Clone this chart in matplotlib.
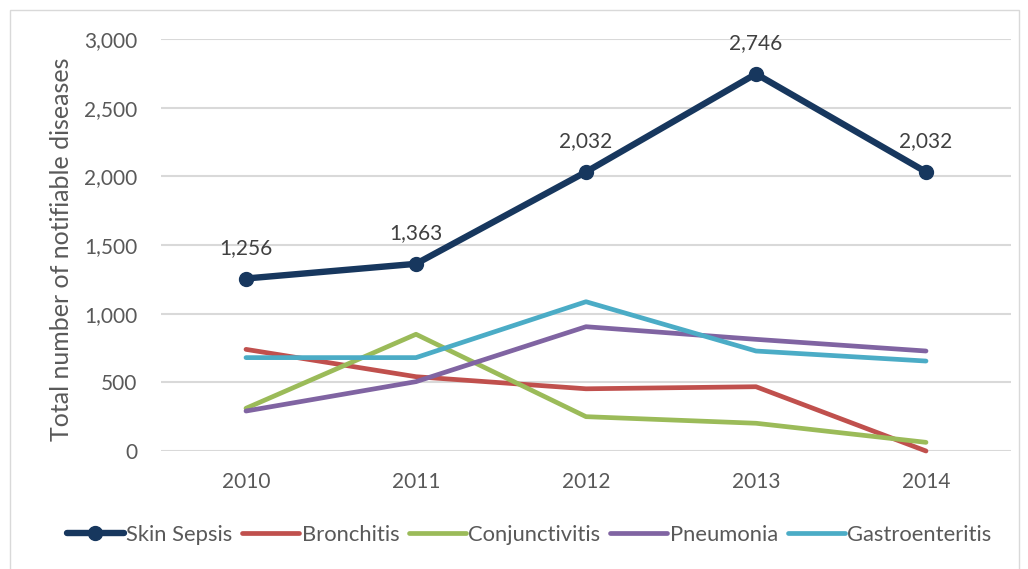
import matplotlib.pyplot as plt
from matplotlib.patches import Rectangle
from matplotlib.ticker import FuncFormatter

years = ['2010', '2011', '2012', '2013', '2014']
skin_sepsis = [1256, 1363, 2032, 2746, 2032]
bronchitis = [740, 541, 453, 468, 0]
conjunctivitis = [311, 850, 250, 202, 63]
pneumonia = [291, 505, 905, 813, 728]
gastroenteritis = [680, 680, 1087, 728, 655]

plt.rcParams['font.family'] = ['Lato', 'DejaVu Sans']
grey = '#595959'

fig = plt.figure(figsize=(10.28, 5.69), dpi=100)
ax = fig.add_axes([161 / 1028, 1 - 451 / 569, 850 / 1028, 412 / 569])

x = range(len(years))
ax.plot(x, bronchitis, color='#C0504D', lw=3.4, label='Bronchitis',
        solid_capstyle='round', solid_joinstyle='round', clip_on=False, zorder=3)
ax.plot(x, conjunctivitis, color='#9BBB59', lw=3.4, label='Conjunctivitis',
        solid_capstyle='round', solid_joinstyle='round', clip_on=False, zorder=3)
ax.plot(x, pneumonia, color='#8064A2', lw=3.4, label='Pneumonia',
        solid_capstyle='round', solid_joinstyle='round', clip_on=False, zorder=3)
ax.plot(x, gastroenteritis, color='#4BACC6', lw=3.4, label='Gastroenteritis',
        solid_capstyle='round', solid_joinstyle='round', clip_on=False, zorder=3)
ax.plot(x, skin_sepsis, color='#17375E', lw=4.6, marker='o', ms=10,
        label='Skin Sepsis', solid_capstyle='round', solid_joinstyle='round',
        clip_on=False, zorder=4)

for i, v in enumerate(skin_sepsis):
    ax.annotate(f'{v:,}', (i, v), xytext=(0, 22), textcoords='offset points',
                ha='center', va='center', fontsize=15, color='#404040')

ax.set_xlim(-0.5, 4.5)
ax.set_ylim(0, 3000)
ax.set_xticks(list(x))
ax.set_xticklabels(years)
ax.set_yticks(range(0, 3001, 500))
ax.yaxis.set_major_formatter(FuncFormatter(lambda v, p: f'{int(v):,}'))
ax.tick_params(length=0, labelsize=15, labelcolor=grey)
ax.tick_params(axis='y', pad=17)
ax.tick_params(axis='x', pad=15)
ax.grid(axis='y', color='#D9D9D9', lw=1.5)
ax.set_axisbelow(True)
for s in ax.spines.values():
    s.set_visible(False)
ax.set_ylabel('Total number of notifiable diseases', fontsize=18, color=grey)
ax.yaxis.set_label_coords(-0.103, 0.49)

handles, labels = ax.get_legend_handles_labels()
order = [4, 0, 1, 2, 3]
leg = fig.legend([handles[i] for i in order], [labels[i] for i in order],
                 loc='center', bbox_to_anchor=(529 / 1028, 1 - 535 / 569),
                 ncol=5, frameon=False, fontsize=15.8, handlelength=2.6,
                 handletextpad=0.1, columnspacing=0.45, labelcolor=grey)

fig.patches.append(Rectangle((10 / 1028, -0.05), 1009 / 1028, 1.05 - 10 / 569,
                             transform=fig.transFigure, fill=False,
                             edgecolor='#D9D9D9', lw=1))

fig.savefig('out.png', dpi=100)
